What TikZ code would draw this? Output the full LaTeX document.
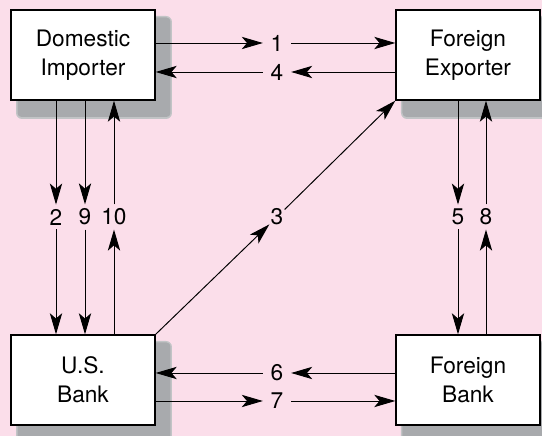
\documentclass[tikz,border=0pt]{standalone}
\usepackage{fontspec}
\setmainfont{TeX Gyre Heros}
\usepackage{tikz}
\usetikzlibrary{arrows.meta}
\usetikzlibrary{positioning}
\definecolor{bgpink}{RGB}{251, 222, 234}
\definecolor{shadegray}{RGB}{168, 170, 173}
\tikzset{arr/.style = {-{Stealth[length=12pt, width=7pt, inset=3pt]}, line width=0.55pt},
         party/.style = {draw, line width=0.75pt, fill=white, minimum width=2.88cm,
                         minimum height=1.8cm, align=center,
                         font=\fontsize{12.9}{16.5}\selectfont},
         num/.style = {inner xsep=0.15cm, inner ysep=0.08cm,
                       font=\fontsize{12.9}{16.5}\selectfont}}

\begin{document}
\begin{tikzpicture}
    \fill [bgpink] (0, 0) rectangle (10.84, 8.72);
    \useasboundingbox (0, 0) rectangle (10.84, 8.72);

    % shadows first, boxes on top
    \foreach \cx/\cy in {1.66/7.62, 9.36/7.62, 1.66/1.12, 9.36/1.12} {
        \fill [shadegray!70, rounded corners=0.12cm]
            (\cx - 1.44 + 0.10, \cy - 0.9 - 0.38) rectangle (\cx + 1.44 + 0.34, \cy + 0.9 - 0.12);
        \fill [shadegray, rounded corners=0.08cm]
            (\cx - 1.44 + 0.13, \cy - 0.9 - 0.34) rectangle (\cx + 1.44 + 0.31, \cy + 0.9 - 0.15);
    }

    \node [party] (imp) at (1.66, 7.62) {Domestic\\Importer};
    \node [party] (exp) at (9.36, 7.62) {Foreign\\Exporter};
    \node [party] (usb) at (1.66, 1.12) {U.S.\\Bank};
    \node [party] (fgb) at (9.36, 1.12) {Foreign\\Bank};

    \node [num] (n1) at (5.54, 7.86) {1};
    \node [num] (n4) at (5.54, 7.28) {4};
    \node [num] (n6) at (5.54, 1.26) {6};
    \node [num] (n7) at (5.54, 0.70) {7};
    \node [num] (n2) at (1.12, 4.38) {2};
    \node [num] (n9) at (1.70, 4.38) {9};
    \node [num] (n10) at (2.28, 4.38) {10};
    \node [num] (n5) at (9.16, 4.38) {5};
    \node [num] (n8) at (9.72, 4.38) {8};
    \node [num, inner sep=0.02cm] (n3) at (5.54, 4.38) {3};

    \draw [arr] (imp.east |- n1) -- (n1);
    \draw [arr] (n1) -- (exp.west |- n1);
    \draw [arr] (exp.west |- n4) -- (n4);
    \draw [arr] (n4) -- (imp.east |- n4);

    \draw [arr] (fgb.west |- n6) -- (n6);
    \draw [arr] (n6) -- (usb.east |- n6);
    \draw [arr] (usb.east |- n7) -- (n7);
    \draw [arr] (n7) -- (fgb.west |- n7);

    \draw [arr] (imp.south -| n2) -- (n2);
    \draw [arr] (n2) -- (usb.north -| n2);
    \draw [arr] (imp.south -| n9) -- (n9);
    \draw [arr] (n9) -- (usb.north -| n9);
    \draw [arr] (usb.north -| n10) -- (n10);
    \draw [arr] (n10) -- (imp.south -| n10);

    \draw [arr] (exp.south -| n5) -- (n5);
    \draw [arr] (n5) -- (fgb.north -| n5);
    \draw [arr] (fgb.north -| n8) -- (n8);
    \draw [arr] (n8) -- (exp.south -| n8);

    \draw [arr] (usb.north east) -- (n3);
    \draw [arr] (n3) -- (exp.south west);
\end{tikzpicture}
\end{document}
